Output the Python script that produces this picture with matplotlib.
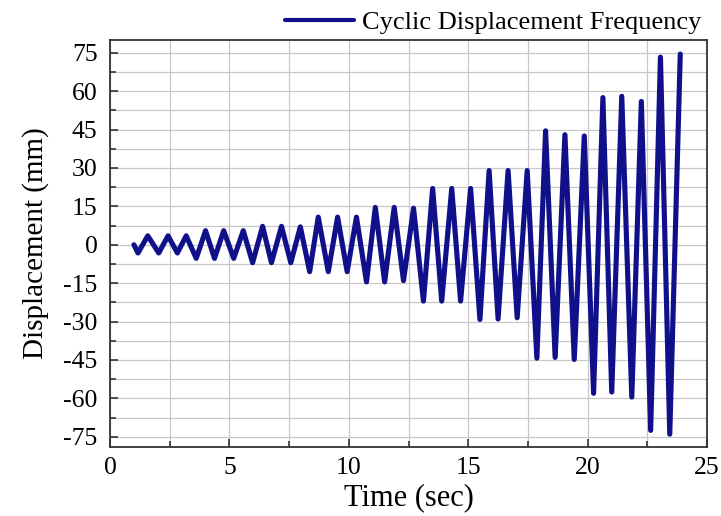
import matplotlib
matplotlib.use("Agg")
import matplotlib.pyplot as plt
from matplotlib.ticker import MultipleLocator

plt.rcParams['font.family'] = ['Liberation Serif', 'DejaVu Serif']
plt.rcParams['axes.unicode_minus'] = False

# Turning points of the cyclic displacement history (time in s, displacement in mm)
time_s = [1.0,
          1.17, 1.58, 2.04, 2.43, 2.82, 3.19,
          3.61, 4.0, 4.375, 4.76, 5.18, 5.58,
          5.97, 6.39, 6.76, 7.18, 7.57, 7.97,
          8.36, 8.72, 9.14, 9.53, 9.93, 10.32,
          10.74, 11.11, 11.5, 11.9, 12.29, 12.71,
          13.125, 13.51, 13.89, 14.31, 14.68, 15.1,
          15.49, 15.875, 16.25, 16.67, 17.05, 17.47,
          17.875, 18.24, 18.64, 19.05, 19.44, 19.86,
          20.25, 20.64, 21.01, 21.43, 21.85, 22.25,
          22.64, 23.05, 23.44, 23.88]
disp_mm = [0.0,
           -3.2, 3.5, -3.2, 3.5, -3.2, 3.5,
           -5.3, 5.5, -5.3, 5.5, -5.3, 5.5,
           -7.0, 7.2, -7.0, 7.2, -7.0, 7.0,
           -10.5, 10.8, -10.5, 10.8, -10.5, 10.8,
           -14.5, 14.6, -14.5, 14.6, -14.0, 14.3,
           -22.0, 22.0, -22.0, 22.0, -22.0, 22.0,
           -29.2, 29.0, -29.0, 29.0, -28.5, 29.0,
           -44.3, 44.5, -44.0, 43.0, -44.8, 42.5,
           -58.0, 57.5, -57.5, 58.0, -59.5, 56.0,
           -72.5, 73.3, -74.0, 74.5]

series_label = "Cyclic Displacement Frequency"
x_label = "Time (sec)"
y_label = "Displacement (mm)"
x_ticks = [0, 5, 10, 15, 20, 25]
y_ticks = [-75, -60, -45, -30, -15, 0, 15, 30, 45, 60, 75]

fig = plt.figure(figsize=(7.21, 5.16), dpi=100)
ax = fig.add_axes([0.1526, 0.1337, 0.828, 0.7888])

ax.plot(time_s, disp_mm, color='#10108a', lw=3.7, label=series_label,
        solid_joinstyle='round', solid_capstyle='round')

ax.set_xlim(0, 25)
ax.set_ylim(-79, 80)
ax.set_xticks(x_ticks)
ax.set_yticks(y_ticks)
ax.xaxis.set_minor_locator(MultipleLocator(2.5))
ax.yaxis.set_minor_locator(MultipleLocator(7.5))
ax.grid(True, which='both', color='#c8c8c8', lw=0.9)
ax.set_axisbelow(True)
ax.tick_params(which='both', direction='in', top=False, right=False,
               labelsize=18.5, color='#333333', width=1.2)
ax.tick_params(which='major', length=6)
ax.tick_params(axis='y', which='major', pad=9)
ax.tick_params(axis='x', which='major', pad=7)
ax.tick_params(which='minor', length=4)
for s in ax.spines.values():
    s.set_color('#333333')
    s.set_linewidth(1.3)

ax.set_xlabel(x_label, fontsize=22, labelpad=3)
ax.set_ylabel(y_label, fontsize=21, labelpad=10)

leg = ax.legend(loc='lower right', bbox_to_anchor=(1.01, 0.985), frameon=False,
                fontsize=19, handlelength=2.6, handletextpad=0.3, borderaxespad=0.05)
for h in leg.get_lines():
    h.set_linewidth(3.0)

fig.savefig('out.png', dpi=100)
